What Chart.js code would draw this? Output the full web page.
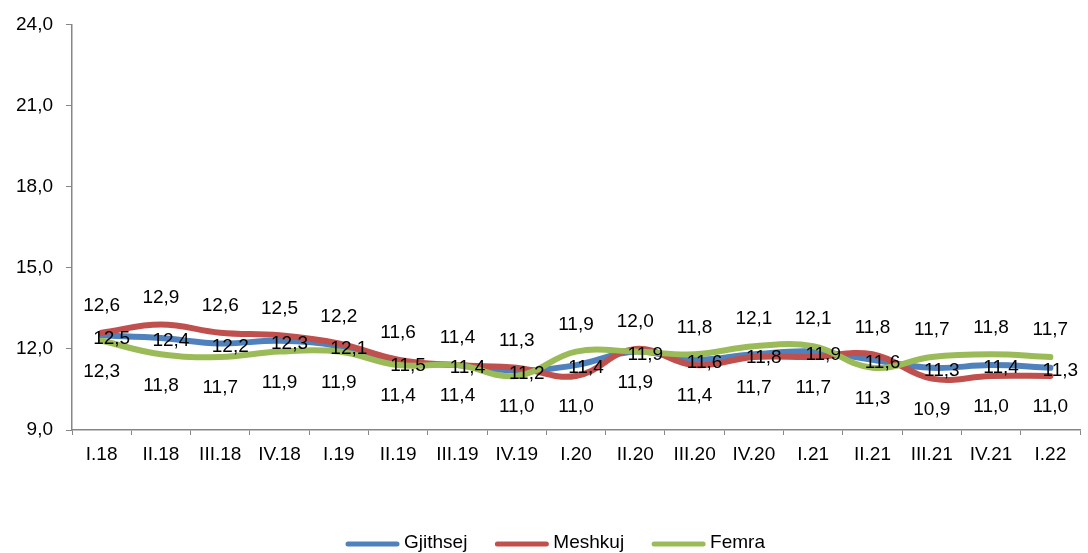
<!DOCTYPE html>
<html>
<head>
<meta charset="utf-8">
<script src="https://cdn.jsdelivr.net/npm/chart.js@4"></script>
<style>
  html, body { margin: 0; padding: 0; background: #fff; }
</style>
</head>
<body>
<canvas id="myChart" width="1088" height="553"></canvas>
<script>
// data
const categories = ['I.18', 'II.18', 'III.18', 'IV.18', 'I.19', 'II.19', 'III.19', 'IV.19', 'I.20',
  'II.20', 'III.20', 'IV.20', 'I.21', 'II.21', 'III.21', 'IV.21', 'I.22'];
const gjithsej = [12.5, 12.4, 12.2, 12.3, 12.1, 11.5, 11.4, 11.2, 11.4, 11.9, 11.6, 11.8, 11.9, 11.6, 11.3, 11.4, 11.3];
const meshkuj = [12.6, 12.9, 12.6, 12.5, 12.2, 11.6, 11.4, 11.3, 11.0, 12.0, 11.4, 11.7, 11.7, 11.8, 10.9, 11.0, 11.0];
const femra = [12.3, 11.8, 11.7, 11.9, 11.9, 11.4, 11.4, 11.0, 11.9, 11.9, 11.8, 12.1, 12.1, 11.3, 11.7, 11.8, 11.7];
const yTicks = [9, 12, 15, 18, 21, 24];

const FONT = '"Liberation Sans", Arial, sans-serif';
const AXIS = '#868686';
const fmt = v => v.toFixed(1).replace('.', ',');

// value labels: higher of men/women above, lower below, total next to its point
const valueLabels = {
  id: 'valueLabels',
  afterDatasetsDraw(chart) {
    const ctx = chart.ctx;
    const mB = chart.getDatasetMeta(0), mR = chart.getDatasetMeta(1), mG = chart.getDatasetMeta(2);
    ctx.save();
    ctx.font = '19px ' + FONT;
    ctx.fillStyle = '#000';
    ctx.textBaseline = 'middle';
    ctx.textAlign = 'center';
    categories.forEach((c, i) => {
      const r = mR.data[i], g = mG.data[i], b = mB.data[i];
      const redUp = meshkuj[i] >= femra[i];
      const hi = redUp ? [r, meshkuj[i]] : [g, femra[i]];
      const lo = redUp ? [g, femra[i]] : [r, meshkuj[i]];
      ctx.fillText(fmt(hi[1]), hi[0].x, hi[0].y - 27);
      ctx.fillText(fmt(lo[1]), lo[0].x, lo[0].y + 31);
      const txt = fmt(gjithsej[i]);
      const w = ctx.measureText(txt).width;
      const cx = Math.min(b.x + 10, chart.width - 2 - w / 2);
      ctx.fillText(txt, cx, b.y + 3);
    });
    ctx.restore();
  }
};

// legend drawn by hand so it sits low like in the original
const bottomLegend = {
  id: 'bottomLegend',
  afterDraw(chart) {
    const ctx = chart.ctx;
    const y = 543, lineLen = 55, gap = 4, between = 27;
    ctx.save();
    ctx.font = '19px ' + FONT;
    ctx.textBaseline = 'middle';
    ctx.textAlign = 'left';
    const sets = chart.data.datasets;
    const widths = sets.map(d => lineLen + gap + ctx.measureText(d.label).width);
    const total = widths.reduce((a, b) => a + b, 0) + between * (sets.length - 1);
    let x = 555 - total / 2;
    sets.forEach((d, i) => {
      ctx.strokeStyle = d.borderColor;
      ctx.lineWidth = 5;
      ctx.lineCap = 'round';
      ctx.beginPath();
      ctx.moveTo(x + 3, y + 1);
      ctx.lineTo(x + lineLen - 3, y + 1);
      ctx.stroke();
      ctx.fillStyle = '#000';
      ctx.fillText(d.label, x + lineLen + gap, y);
      x += widths[i] + between;
    });
    ctx.restore();
  }
};

const lineSet = (label, data, color, order) => ({
  label: label,
  data: data,
  borderColor: color,
  backgroundColor: color,
  borderWidth: 6,
  borderCapStyle: 'round',
  tension: 0.4,
  pointRadius: 0,
  pointHoverRadius: 0,
  fill: false,
  order: order
});

new Chart(document.getElementById('myChart'), {
  type: 'line',
  data: {
    labels: categories,
    datasets: [
      lineSet('Gjithsej', gjithsej, '#4F81BD', 2),
      lineSet('Meshkuj', meshkuj, '#C0504D', 1),
      lineSet('Femra', femra, '#9BBB59', 0)
    ]
  },
  options: {
    responsive: false,
    animation: false,
    layout: { padding: { top: 23, right: 8, bottom: 0, left: 0 } },
    plugins: { legend: { display: false }, tooltip: { enabled: false } },
    scales: {
      x: {
        offset: true,
        grid: { display: true, drawOnChartArea: false, drawTicks: true, tickLength: 5, color: AXIS, offset: true },
        border: { display: true, color: AXIS, width: 1.5 },
        ticks: { color: '#000', font: { size: 19, family: FONT }, padding: 8, autoSkip: false, maxRotation: 0 },
        afterFit(s) { s.height = 123; }
      },
      y: {
        min: 9,
        max: 24,
        afterBuildTicks(s) { s.ticks = yTicks.map(v => ({ value: v })); },
        grid: { display: true, drawOnChartArea: false, drawTicks: true, tickLength: 6, color: AXIS },
        border: { display: true, color: AXIS, width: 1.5 },
        ticks: { color: '#000', font: { size: 19, family: FONT }, padding: 13, callback: v => fmt(v) },
        afterFit(s) { s.width = 72; }
      }
    }
  },
  plugins: [valueLabels, bottomLegend]
});
</script>
</body>
</html>
